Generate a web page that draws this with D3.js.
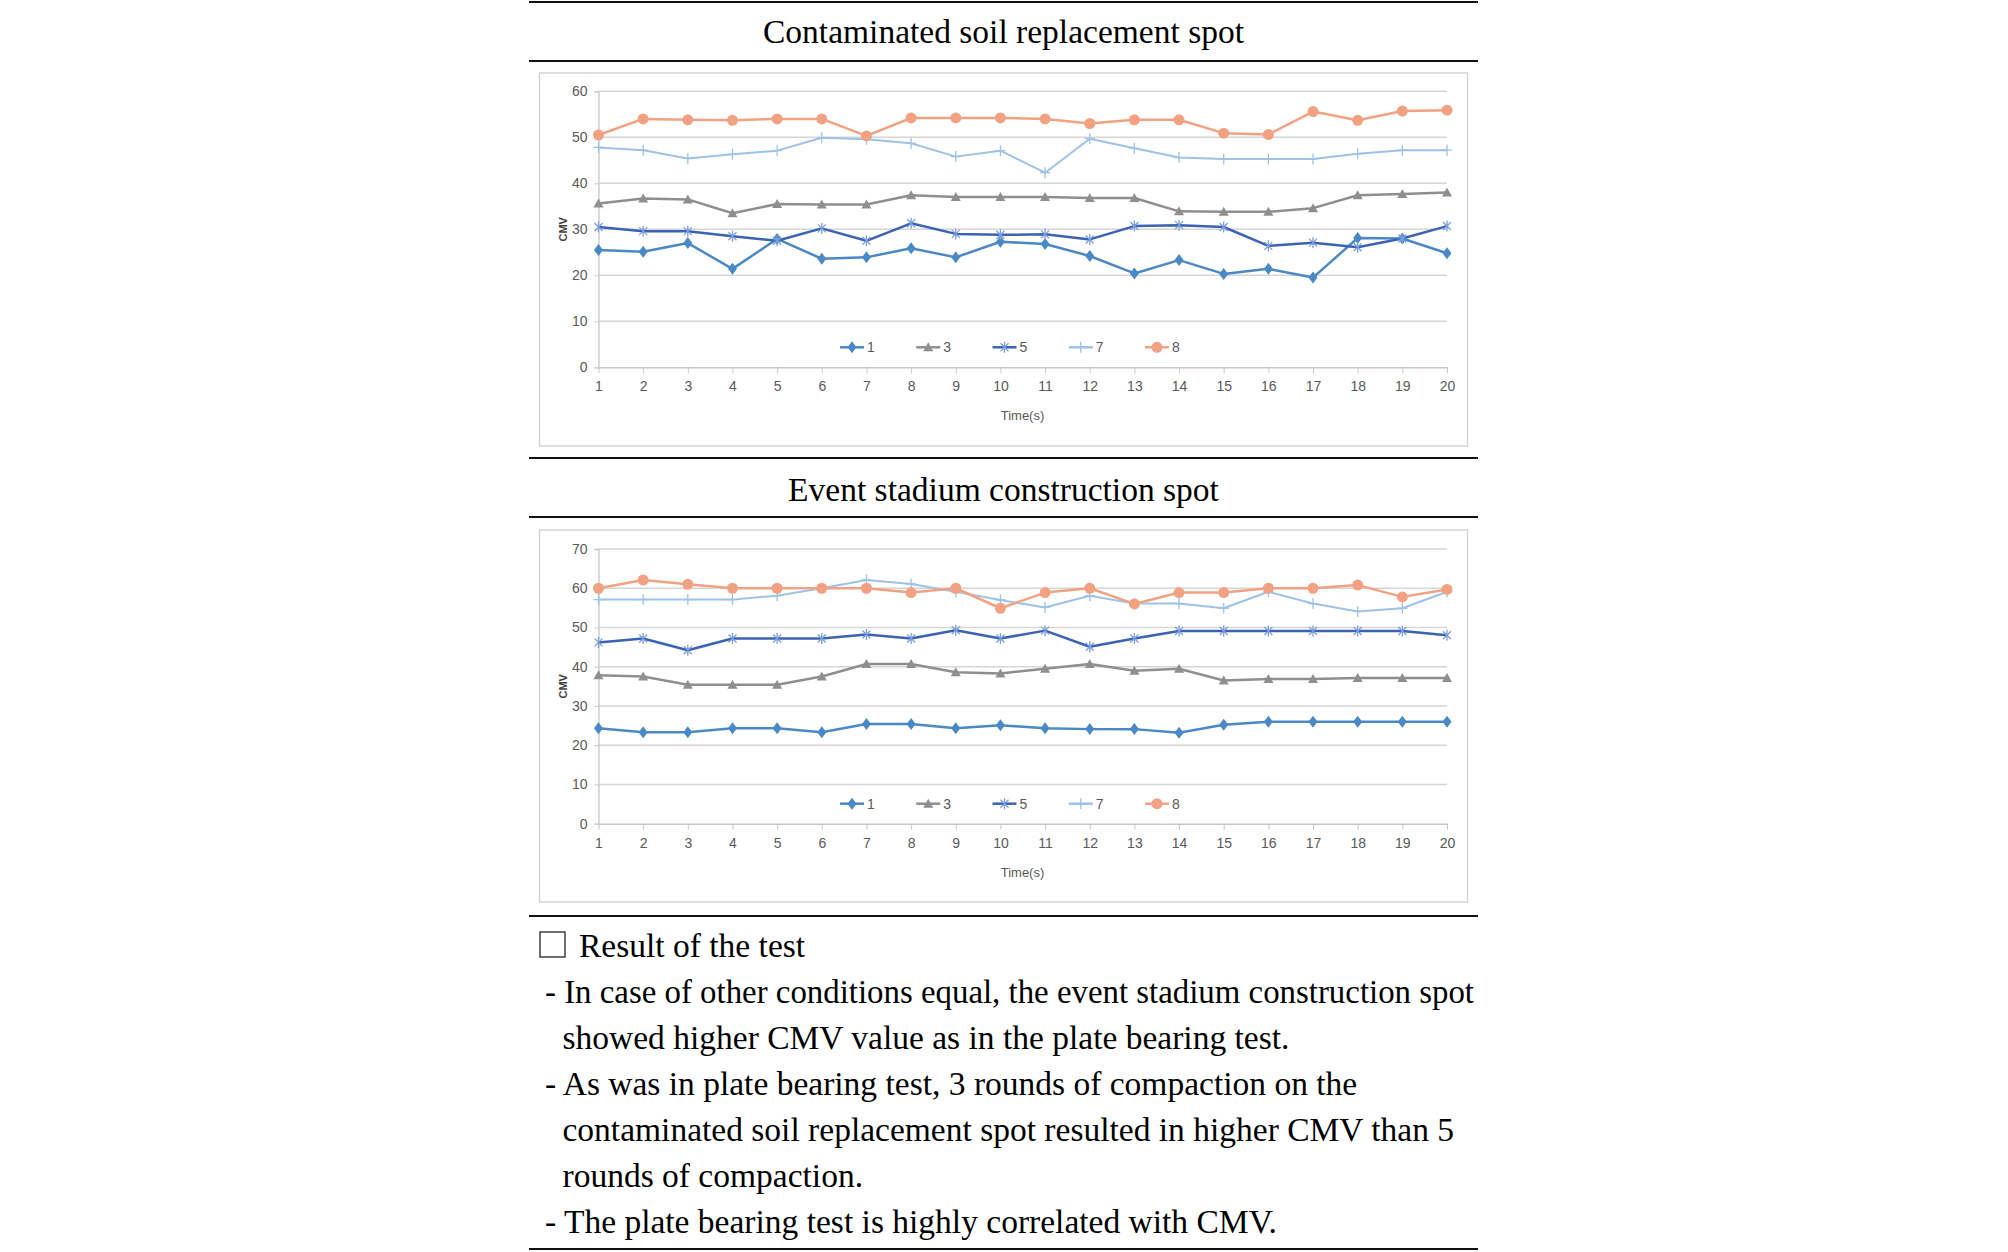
<!DOCTYPE html>
<html>
<head>
<meta charset="utf-8">
<script src="https://cdn.jsdelivr.net/npm/d3@7"></script>
<style>
  html, body { margin: 0; padding: 0; background: #fff; }
</style>
</head>
<body>
<div id="page"></div>
<script>
// Time steps on the x axis
var times = [1, 2, 3, 4, 5, 6, 7, 8, 9, 10, 11, 12, 13, 14, 15, 16, 17, 18, 19, 20];
var seriesNames = ["1", "3", "5", "7", "8"];

// Contaminated soil replacement spot (CMV)
var soil1 = [25.5, 25.1, 27.0, 21.4, 27.9, 23.6, 23.9, 25.9, 23.9, 27.3, 26.8, 24.2, 20.4, 23.3, 20.3, 21.4, 19.5, 28.1, 28.0, 24.8];
var soil3 = [35.6, 36.7, 36.5, 33.5, 35.5, 35.4, 35.4, 37.4, 37.0, 37.0, 37.0, 36.8, 36.8, 33.9, 33.8, 33.8, 34.6, 37.4, 37.7, 38.0];
var soil5 = [30.5, 29.6, 29.6, 28.5, 27.5, 30.2, 27.5, 31.3, 29.0, 28.8, 28.9, 27.8, 30.7, 30.9, 30.5, 26.4, 27.1, 26.1, 28.0, 30.7];
var soil7 = [47.8, 47.2, 45.4, 46.3, 47.1, 49.9, 49.6, 48.7, 45.8, 47.1, 42.3, 49.7, 47.6, 45.6, 45.3, 45.3, 45.3, 46.4, 47.2, 47.2];
var soil8 = [50.5, 54.0, 53.8, 53.7, 54.0, 54.0, 50.3, 54.2, 54.2, 54.2, 54.0, 53.0, 53.8, 53.8, 50.9, 50.6, 55.6, 53.7, 55.7, 55.9];
var soilTicks = [0, 10, 20, 30, 40, 50, 60];

// Event stadium construction spot (CMV)
var stadium1 = [24.3, 23.3, 23.3, 24.3, 24.3, 23.3, 25.4, 25.4, 24.3, 25.1, 24.3, 24.1, 24.1, 23.2, 25.2, 26.0, 26.0, 26.0, 26.0, 26.0];
var stadium3 = [37.8, 37.5, 35.4, 35.4, 35.4, 37.5, 40.7, 40.7, 38.6, 38.3, 39.5, 40.7, 39.0, 39.5, 36.5, 36.9, 36.9, 37.1, 37.1, 37.1];
var stadium5 = [46.2, 47.2, 44.2, 47.2, 47.2, 47.2, 48.2, 47.2, 49.3, 47.2, 49.2, 45.1, 47.2, 49.1, 49.1, 49.1, 49.1, 49.1, 49.1, 48.0];
var stadium7 = [57.1, 57.1, 57.1, 57.1, 58.1, 60.0, 62.1, 61.1, 59.1, 57.0, 55.1, 58.1, 56.1, 56.1, 54.9, 59.1, 56.1, 54.1, 54.9, 59.1];
var stadium8 = [60.0, 62.1, 61.0, 60.0, 60.0, 60.0, 60.0, 58.9, 60.0, 54.9, 58.9, 60.0, 56.0, 58.9, 58.9, 60.0, 60.0, 60.8, 57.8, 59.7];
var stadiumTicks = [0, 10, 20, 30, 40, 50, 60, 70];

var titles = ["Contaminated soil replacement spot", "Event stadium construction spot"];
var resultHeading = "Result of the test";
var resultLines = [
  "- In case of other conditions equal, the event stadium construction spot",
  "showed higher CMV value as in the plate bearing test.",
  "- As was in plate bearing test, 3 rounds of compaction on the",
  "contaminated soil replacement spot resulted in higher CMV than 5",
  "rounds of compaction.",
  "- The plate bearing test is highly correlated with CMV."
];

var W = 2008, H = 1252;
var serif = "'Liberation Serif', 'Times New Roman', serif";
var sans = "'Liberation Sans Narrow', 'Liberation Sans', Arial, sans-serif";

var colors = {"1": "#4a89c6", "3": "#8f8f8f", "5": "#3a62b5", "7": "#9ec2e8", "8": "#f2a282"};
var lineWidth = {"1": 2.5, "3": 2.5, "5": 2.5, "7": 2, "8": 2.5};

// marker paths, drawn around 0,0
var markerPath = {
  "1": "M0,-6L4.5,0L0,6L-4.5,0Z",
  "3": "M0,-5L5,4L-5,4Z",
  "5": "M-4,-4L4,4M-4,4L4,-4M0,-5.5L0,5.5",
  "7": "M-5,0H5M0,-5.5V5.5",
  "8": null
};

var svg = d3.select("#page").append("svg")
    .attr("width", W)
    .attr("height", H)
    .style("display", "block");

// horizontal rules of the table
var ruleX0 = 529, ruleX1 = 1478;
[2, 61, 458, 517, 916, 1249].forEach(function(y) {
  svg.append("line")
    .attr("x1", ruleX0).attr("x2", ruleX1)
    .attr("y1", y).attr("y2", y)
    .attr("stroke", "#111")
    .attr("stroke-width", 2);
});

var midX = (ruleX0 + ruleX1) / 2;
svg.append("text")
  .attr("x", midX).attr("y", 43)
  .attr("text-anchor", "middle")
  .style("font-family", serif).style("font-size", "33.5px")
  .text(titles[0]);

svg.append("text")
  .attr("x", midX).attr("y", 500.5)
  .attr("text-anchor", "middle")
  .style("font-family", serif).style("font-size", "33.5px")
  .text(titles[1]);

function drawChart(opt) {
  var g = svg.append("g");

  // chart frame
  g.append("rect")
    .attr("x", 539.5).attr("y", opt.boxTop)
    .attr("width", 928).attr("height", opt.boxBottom - opt.boxTop)
    .attr("fill", "#fff")
    .attr("stroke", "#d0d0d0")
    .attr("stroke-width", 1.3);

  var x = d3.scalePoint().domain(times).range([598.5, 1447]);
  var y = d3.scaleLinear().domain([0, d3.max(opt.ticks)]).range([opt.zeroY, opt.topY]);

  // gridlines
  g.append("g").selectAll("line")
    .data(opt.ticks.filter(function(d) { return d > 0; }))
    .enter().append("line")
      .attr("x1", 598.5).attr("x2", 1447)
      .attr("y1", function(d) { return y(d); })
      .attr("y2", function(d) { return y(d); })
      .attr("stroke", "#d6d6d6")
      .attr("stroke-width", 1.5);

  // y axis
  var yAxis = g.append("g")
    .attr("transform", "translate(598.5,0)")
    .call(d3.axisLeft(y).tickValues(opt.ticks).tickSize(4).tickPadding(7));
  yAxis.select(".domain").attr("stroke", "#c8c8c8").attr("stroke-width", 1.3);
  yAxis.selectAll(".tick line").attr("stroke", "#c8c8c8");
  yAxis.selectAll(".tick text")
    .attr("fill", "#595959")
    .style("font-family", sans).style("font-size", "14px");

  // x axis
  var xAxis = g.append("g")
    .attr("transform", "translate(0," + opt.zeroY + ")")
    .call(d3.axisBottom(x).tickSize(6).tickSizeOuter(0).tickPadding(8));
  xAxis.select(".domain").attr("stroke", "#c8c8c8").attr("stroke-width", 1.5);
  xAxis.selectAll(".tick line").attr("stroke", "#c8c8c8");
  xAxis.selectAll(".tick text")
    .attr("fill", "#595959")
    .style("font-family", sans).style("font-size", "14px");

  g.append("text")
    .attr("x", 1022.5).attr("y", opt.zeroY + 53)
    .attr("text-anchor", "middle")
    .attr("fill", "#595959")
    .style("font-family", sans).style("font-size", "13px")
    .text("Time(s)");

  g.append("text")
    .attr("transform", "translate(567," + ((opt.zeroY + opt.topY) / 2) + ") rotate(-90)")
    .attr("text-anchor", "middle")
    .attr("fill", "#404040")
    .attr("font-weight", "bold")
    .style("font-family", sans).style("font-size", "11px")
    .text("CMV");

  var line = d3.line()
    .x(function(d, i) { return x(times[i]); })
    .y(function(d) { return y(d); });

  opt.series.forEach(function(s) {
    g.append("path")
      .datum(s.values)
      .attr("fill", "none")
      .attr("stroke", colors[s.name])
      .attr("stroke-width", lineWidth[s.name])
      .attr("stroke-linejoin", "round")
      .attr("d", line);
  });

  function addMarker(sel, name) {
    if (name === "8") {
      sel.append("circle").attr("r", 5.5).attr("fill", colors[name]);
    } else if (name === "5" || name === "7") {
      sel.append("path").attr("d", markerPath[name])
        .attr("fill", "none")
        .attr("stroke", name === "5" ? "#7d9fdc" : colors[name])
        .attr("stroke-width", 1.3);
    } else {
      sel.append("path").attr("d", markerPath[name]).attr("fill", colors[name]);
    }
  }

  opt.series.forEach(function(s) {
    g.append("g").selectAll("g")
      .data(s.values)
      .enter().append("g")
        .attr("transform", function(d, i) { return "translate(" + x(times[i]) + "," + y(d) + ")"; })
        .each(function() { addMarker(d3.select(this), s.name); });
  });

  // legend
  var lx = d3.scalePoint().domain(seriesNames).range([852, 1157]);
  var ly = opt.zeroY - 20;
  var legend = g.append("g").selectAll("g")
    .data(seriesNames)
    .enter().append("g")
      .attr("transform", function(d) { return "translate(" + lx(d) + "," + ly + ")"; });

  legend.append("line")
    .attr("x1", -12).attr("x2", 12)
    .attr("stroke", function(d) { return colors[d]; })
    .attr("stroke-width", 2.5);
  legend.each(function(d) { addMarker(d3.select(this), d); });
  legend.append("text")
    .attr("x", 15).attr("dy", "0.35em")
    .attr("fill", "#595959")
    .style("font-family", sans).style("font-size", "14px")
    .text(function(d) { return d; });
}

drawChart({
  boxTop: 73, boxBottom: 446,
  zeroY: 367.3, topY: 91.3,
  ticks: soilTicks,
  series: [
    {name: "1", values: soil1},
    {name: "3", values: soil3},
    {name: "5", values: soil5},
    {name: "7", values: soil7},
    {name: "8", values: soil8}
  ]
});

drawChart({
  boxTop: 530, boxBottom: 902,
  zeroY: 823.7, topY: 549,
  ticks: stadiumTicks,
  series: [
    {name: "1", values: stadium1},
    {name: "3", values: stadium3},
    {name: "5", values: stadium5},
    {name: "7", values: stadium7},
    {name: "8", values: stadium8}
  ]
});

// result block
svg.append("rect")
  .attr("x", 540).attr("y", 932)
  .attr("width", 25).attr("height", 25)
  .attr("fill", "none")
  .attr("stroke", "#222")
  .attr("stroke-width", 1.3);

svg.append("text")
  .attr("x", 579).attr("y", 956.7)
  .style("font-family", serif).style("font-size", "33.5px")
  .text(resultHeading);

var lineY = d3.scaleLinear().domain([0, 5]).range([1003.3, 1233.3]);
var textRight = 1474;
svg.append("g").selectAll("text")
  .data(resultLines)
  .enter().append("text")
    .attr("x", function(d) { return d.charAt(0) === "-" ? 545 : 562.5; })
    .attr("y", function(d, i) { return lineY(i); })
    .style("font-family", serif).style("font-size", "33.5px")
    .text(function(d) { return d; })
    .each(function() {
      // squeeze a line that would run past the column edge
      var t = d3.select(this);
      var room = textRight - (+t.attr("x"));
      if (this.getComputedTextLength() > room) {
        t.attr("textLength", room).attr("lengthAdjust", "spacingAndGlyphs");
      }
    });
</script>
</body>
</html>
